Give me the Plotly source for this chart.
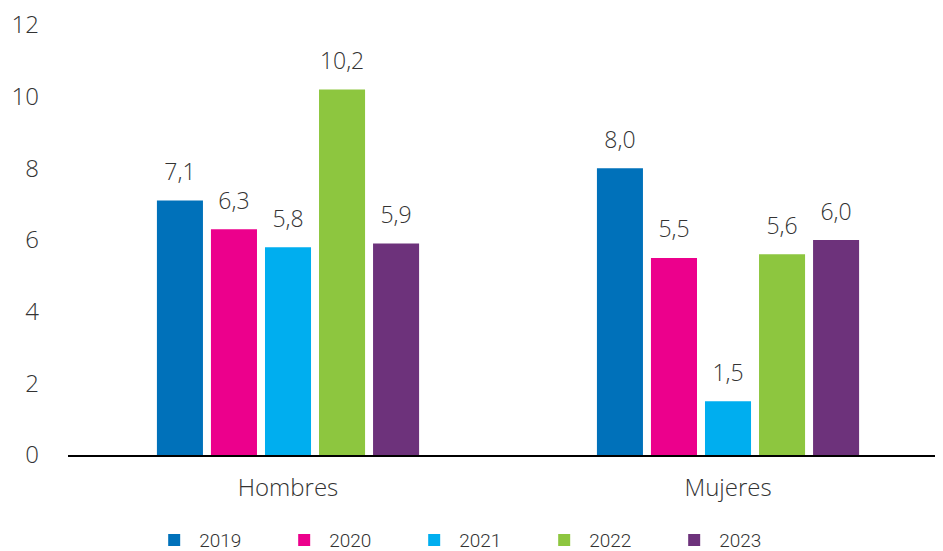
import plotly.graph_objects as go

categorias = ["Hombres", "Mujeres"]
anos = ["2019", "2020", "2021", "2022", "2023"]
valores = {
    "2019": [7.1, 8.0],
    "2020": [6.3, 5.5],
    "2021": [5.8, 1.5],
    "2022": [10.2, 5.6],
    "2023": [5.9, 6.0],
}
colores = ["#0071BA", "#EC008C", "#00AEEF", "#8DC63F", "#6D327B"]
ticks_y = [0, 2, 4, 6, 8, 10, 12]

fuente = "Open Sans, Lato, sans-serif"

fig = go.Figure()

for ano, color in zip(anos, colores):
    fig.add_trace(
        go.Bar(
            x=categorias,
            y=valores[ano],
            name=ano,
            marker={"color": color, "line": {"width": 0}},
            hoverinfo="x+y+name",
        )
    )

# etiquetas: scatter agrupado con marcador invisible para dejar espacio sobre la barra
for ano in anos:
    fig.add_trace(
        go.Scatter(
            x=categorias,
            y=valores[ano],
            mode="markers+text",
            texttemplate="%{y:.1f}",
            textposition="top center",
            textfont={"size": 23, "color": "#333333", "family": fuente, "weight": 300},
            marker={"size": 22, "opacity": 0},
            showlegend=False,
            hoverinfo="skip",
            cliponaxis=False,
        )
    )

# la pagina deja 8 px de margen en el body
fig.update_layout(
    width=935,
    height=543,
    margin={"l": 60, "r": 0, "t": 17, "b": 96, "autoexpand": False},
    paper_bgcolor="white",
    plot_bgcolor="white",
    font={"family": fuente, "color": "#333333", "size": 22, "weight": 300},
    separators=",.",
    barmode="group",
    bargap=0.386,
    bargroupgap=0.148,
    scattermode="group",
    scattergap=0.386,
    xaxis={
        "range": [-0.5, 1.4886],
        "showline": True,
        "linecolor": "black",
        "linewidth": 1.5,
        "ticks": "",
        "tickfont": {"size": 24, "weight": 300},
        "ticklabelstandoff": 10,
        "showgrid": False,
        "automargin": False,
    },
    yaxis={
        "range": [0, 12],
        "tickvals": ticks_y,
        "showgrid": False,
        "zeroline": False,
        "showline": False,
        "tickfont": {"size": 24, "weight": 300},
        "ticklabelstandoff": 28,
        "ticklabeloverflow": "allow",
        "automargin": False,
    },
    legend={
        "orientation": "h",
        "x": 0.151,
        "xanchor": "left",
        "xref": "container",
        "y": -0.198,
        "yanchor": "middle",
        "yref": "paper",
        "font": {"family": "Liberation Sans Narrow, Roboto, sans-serif", "size": 19},
        "entrywidth": 75,
        "itemwidth": 40,
    },
    showlegend=True,
)

fig.write_html("out.html")
